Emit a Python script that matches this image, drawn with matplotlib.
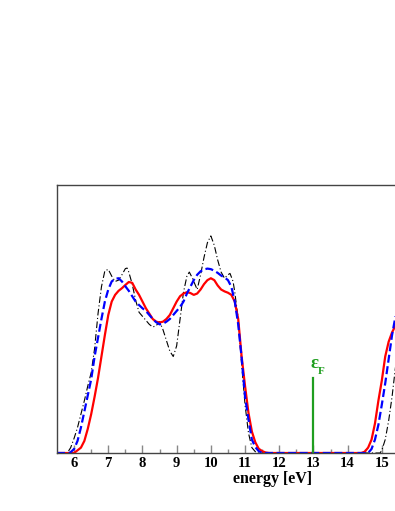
import numpy as np
import matplotlib.pyplot as plt

# density of states, three curves
red_e = [5.5, 6.0, 6.1, 6.2, 6.3, 6.4, 6.5, 6.6, 6.7, 6.8, 6.9, 7.0, 7.1, 7.2, 7.3, 7.4,
         7.5, 7.6, 7.7, 7.8, 7.9, 8.0, 8.1, 8.2, 8.3, 8.4, 8.5, 8.6, 8.7, 8.8, 8.9, 9.0,
         9.1, 9.2, 9.3, 9.4, 9.5, 9.6, 9.7, 9.8, 9.9, 10.0, 10.1, 10.2, 10.3, 10.4, 10.5,
         10.6, 10.7, 10.8, 10.9, 11.0, 11.1, 11.2, 11.3, 11.4, 11.5, 11.6, 11.7,
         14.4, 14.5, 14.6, 14.7, 14.8, 14.9, 15.0, 15.1, 15.2, 15.3, 15.4]
red_dos = [0.0, 0.0, 0.01, 0.02, 0.045, 0.09, 0.145, 0.21, 0.28, 0.36, 0.44, 0.515, 0.565,
           0.59, 0.605, 0.615, 0.627, 0.638, 0.635, 0.61, 0.59, 0.565, 0.54, 0.52, 0.50,
           0.49, 0.487, 0.49, 0.50, 0.515, 0.54, 0.565, 0.585, 0.595, 0.60, 0.597, 0.59,
           0.595, 0.61, 0.63, 0.645, 0.652, 0.645, 0.625, 0.61, 0.603, 0.598, 0.59, 0.565,
           0.50, 0.36, 0.25, 0.15, 0.08, 0.04, 0.016, 0.007, 0.002, 0.0,
           0.0, 0.005, 0.02, 0.05, 0.11, 0.195, 0.27, 0.36, 0.415, 0.45, 0.475]

blue_e = [5.5, 5.85, 5.9, 6.0, 6.1, 6.2, 6.3, 6.4, 6.5, 6.6, 6.7, 6.8, 6.9, 7.0, 7.1, 7.2,
          7.3, 7.4, 7.5, 7.6, 7.7, 7.8, 7.9, 8.0, 8.1, 8.2, 8.3, 8.4, 8.5, 8.6, 8.7, 8.8,
          8.9, 9.0, 9.1, 9.2, 9.3, 9.4, 9.5, 9.6, 9.7, 9.8, 9.9, 10.0, 10.1, 10.2, 10.3,
          10.4, 10.5, 10.6, 10.7, 10.8, 10.9, 11.0, 11.1, 11.2, 11.3, 11.4, 11.5,
          14.6, 14.7, 14.8, 14.9, 15.0, 15.1, 15.2, 15.3, 15.4]
blue_dos = [0.0, 0.0, 0.003, 0.015, 0.045, 0.095, 0.155, 0.215, 0.275, 0.36, 0.43, 0.50,
            0.565, 0.61, 0.64, 0.65, 0.652, 0.64, 0.622, 0.605, 0.585, 0.565, 0.552, 0.54,
            0.53, 0.515, 0.50, 0.488, 0.48, 0.482, 0.49, 0.50, 0.515, 0.53, 0.545, 0.565,
            0.595, 0.62, 0.645, 0.665, 0.678, 0.685, 0.688, 0.686, 0.68, 0.672, 0.662,
            0.655, 0.645, 0.62, 0.565, 0.48, 0.355, 0.21, 0.125, 0.05, 0.022, 0.007, 0.0,
            0.0, 0.015, 0.05, 0.105, 0.18, 0.26, 0.35, 0.44, 0.51]

black_e = [5.5, 5.8, 5.9, 6.0, 6.1, 6.2, 6.3, 6.4, 6.5, 6.6, 6.7, 6.8, 6.9, 7.0, 7.1, 7.2,
           7.3, 7.4, 7.5, 7.55, 7.6, 7.7, 7.8, 7.9, 8.0, 8.1, 8.2, 8.3, 8.4, 8.5, 8.6, 8.7,
           8.8, 8.9, 9.0, 9.1, 9.2, 9.3, 9.37, 9.45, 9.5, 9.6, 9.7, 9.8, 9.9, 10.0, 10.1,
           10.2, 10.3, 10.4, 10.5, 10.56, 10.65, 10.7, 10.8, 10.9, 11.0, 11.1, 11.2, 11.3,
           11.35, 14.95, 15.0, 15.1, 15.2, 15.3, 15.4]
black_dos = [0.0, 0.0, 0.02, 0.055, 0.095, 0.145, 0.195, 0.25, 0.30, 0.39, 0.52, 0.62,
             0.68, 0.685, 0.66, 0.64, 0.645, 0.665, 0.688, 0.69, 0.675, 0.63, 0.57, 0.525,
             0.51, 0.495, 0.48, 0.47, 0.475, 0.49, 0.46, 0.42, 0.38, 0.36, 0.40, 0.50, 0.60,
             0.66, 0.675, 0.655, 0.64, 0.61, 0.665, 0.73, 0.785, 0.81, 0.775, 0.72, 0.675,
             0.652, 0.665, 0.67, 0.64, 0.60, 0.50, 0.33, 0.18, 0.075, 0.02, 0.005,
             0.0, 0.0, 0.01, 0.05, 0.12, 0.21, 0.32]

e_fermi = 13.0
fermi_height = 0.28

green = '#1f9e1f'

fig = plt.figure(figsize=(3.95, 5.11), dpi=100)
ax = fig.add_axes([0.1443, 0.1135, 0.8557, 0.5245])

ax.plot(black_e, black_dos, color='black', lw=0.8, dashes=(6, 2.2, 1, 2.2))
ax.plot(red_e, red_dos, color='red', lw=1.6)
ax.plot(blue_e, blue_dos, color='blue', lw=1.6, dashes=(3.6, 1.6))

ax.plot([e_fermi, e_fermi], [0, fermi_height], color=green, lw=1.6)
ax.text(e_fermi + 0.02, 0.317, 'ε', color=green, ha='center', va='baseline',
        family='Liberation Serif', fontsize=13.5, fontweight='bold')
ax.text(e_fermi + 0.14, 0.295, 'F', color=green, ha='left', va='baseline',
        family='Liberation Serif', fontsize=8, fontweight='bold')

ax.set_xlim(5.5, 15.386)
ax.set_ylim(0, 1)
ax.set_xticks(np.arange(6, 16, 1))
ax.set_xticks(np.arange(6.5, 15.5, 1), minor=True)
ax.set_yticks([])
ax.tick_params(axis='x', which='both', direction='in', color='#888888', pad=3)
ax.tick_params(axis='x', which='major', length=5.8, width=1)
ax.tick_params(axis='x', which='minor', length=2.8, width=1)
for lab in ax.get_xticklabels():
    lab.set_family('Liberation Serif')
    lab.set_fontweight('bold')
    lab.set_fontsize(10.5)

ax.spines['right'].set_visible(False)
for s in ['left', 'top', 'bottom']:
    ax.spines[s].set_color('#444444')
    ax.spines[s].set_linewidth(1)

ax.set_xlabel('energy [eV]', family='Liberation Serif', fontweight='bold', fontsize=11.5)
ax.xaxis.set_label_coords(0.6376, -0.097)
ax.xaxis.label.set_verticalalignment('center')

fig.savefig('out.png', dpi=100)
plt.close()
